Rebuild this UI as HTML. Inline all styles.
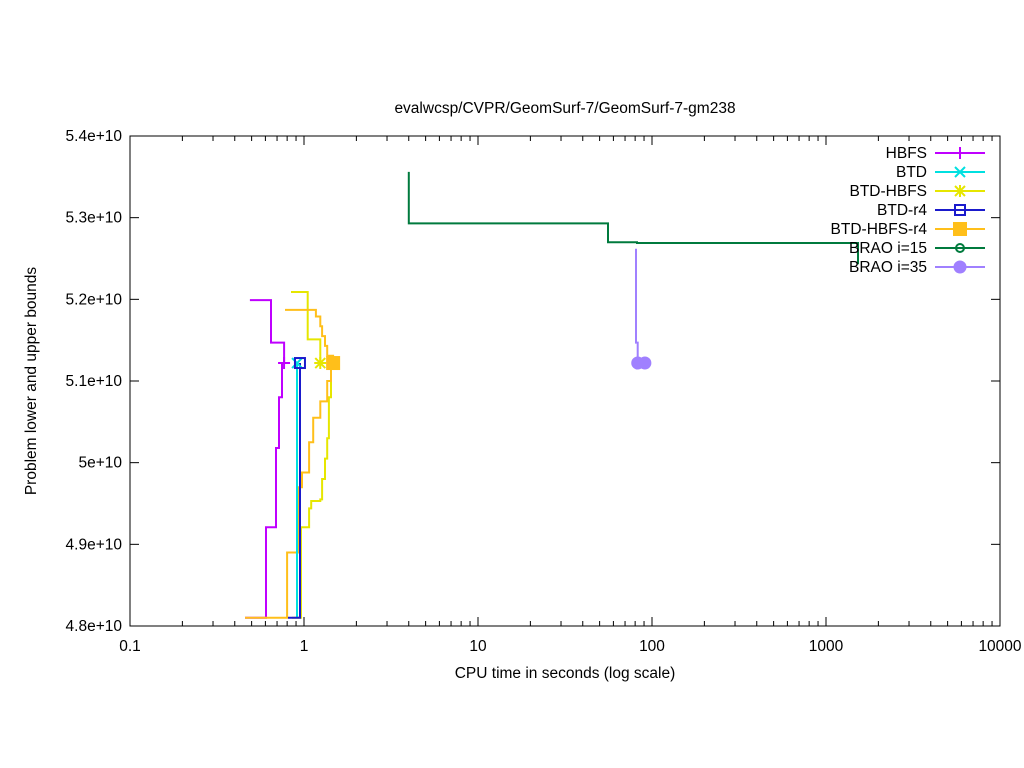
<!DOCTYPE html>
<html><head><meta charset="utf-8"><style>
body{margin:0;background:#fff}
svg{display:block;font-family:"Liberation Sans",sans-serif;font-size:15.5px}
</style></head><body>
<svg id="chart" width="1024" height="768" viewBox="0 0 1024 768"></svg>
<script>
const xTickLabels=["0.1","1","10","100","1000","10000"];
const xTickValues=[0.1,1,10,100,1000,10000];
const yTickLabels=["4.8e+10","4.9e+10","5e+10","5.1e+10","5.2e+10","5.3e+10","5.4e+10"];
const yTickValues=[4.8,4.9,5.0,5.1,5.2,5.3,5.4];
const seriesNames=["HBFS","BTD","BTD-HBFS","BTD-r4","BTD-HBFS-r4","BRAO i=15","BRAO i=35"];
const seriesColors=["#bf00ff","#00e0e0","#e6e600","#1a1acc","#ffbf1a","#007a3d","#a080ff"];
const hbfsUpT=[0.489,0.646,0.768], hbfsUpV=[5.199,5.147,5.122];
const hbfsLoT=[0.458,0.605,0.690,0.718,0.747,0.768], hbfsLoV=[4.810,4.921,5.018,5.080,5.122,5.122];
const btdLoT=[0.912,0.912], btdLoV=[4.810,5.122];
const btdhUpT=[0.842,1.05,1.24], btdhUpV=[5.209,5.151,5.122];
const btdhLoT=[0.853,0.961,1.07,1.10,1.24,1.27,1.32,1.36,1.39,1.43,1.43], btdhLoV=[4.810,4.921,4.944,4.953,4.955,4.980,5.005,5.030,5.080,5.122,5.122];
const r4LoT=[0.809,0.948,0.948], r4LoV=[4.810,4.810,5.122];
const bhr4UpT=[0.778,1.17,1.24,1.27,1.32,1.36,1.47], bhr4UpV=[5.187,5.179,5.167,5.155,5.143,5.131,5.122];
const bhr4LoT=[0.458,0.80,0.924,0.974,1.07,1.13,1.24,1.36,1.43,1.47], bhr4LoV=[4.810,4.890,4.970,4.988,5.025,5.055,5.075,5.100,5.122,5.122];
const brao15T=[4.0,4.0,55.9,82,1528], brao15V=[5.356,5.293,5.270,5.269,5.243];
const brao35T=[80.9,80.9,82.8], brao35V=[5.262,5.147,5.122];
const brao35MarkT=[82.8,91];

const svg=document.getElementById('chart');
const NS='http://www.w3.org/2000/svg';
const L=130,R=1000,T=136,B=626;
function xs(t){return L+(Math.log10(t)+1)/5*(R-L);}
function ys(v){return B-(v-4.8)/0.6*(B-T);}
function mk(tag,attrs,parent){const e=document.createElementNS(NS,tag);for(const k in attrs)e.setAttribute(k,attrs[k]);(parent||svg).appendChild(e);return e;}

const title=mk('text',{x:565,y:113,'text-anchor':'middle'});


title.textContent='evalwcsp/CVPR/GeomSurf-7/GeomSurf-7-gm238';

const axes=mk('g',{});


mk('rect',{x:L,y:T,width:R-L,height:B-T,fill:'none',stroke:'#000','stroke-width':1},axes);
xTickValues.forEach((v,i)=>{
  const x=xs(v);
  mk('line',{x1:x,y1:B,x2:x,y2:B-9,stroke:'#000'},axes);
  mk('line',{x1:x,y1:T,x2:x,y2:T+9,stroke:'#000'},axes);
  const t=mk('text',{x:x,y:B+25,'text-anchor':'middle'},axes);
  
  
  t.textContent=xTickLabels[i];
  if(i<xTickValues.length-1){for(let m=2;m<10;m++){const xm=xs(v*m);
    mk('line',{x1:xm,y1:B,x2:xm,y2:B-5,stroke:'#000'},axes);
    mk('line',{x1:xm,y1:T,x2:xm,y2:T+5,stroke:'#000'},axes);}}
});
yTickValues.forEach((v,i)=>{
  const y=ys(v);
  mk('line',{x1:L,y1:y,x2:L+9,y2:y,stroke:'#000'},axes);
  mk('line',{x1:R,y1:y,x2:R-9,y2:y,stroke:'#000'},axes);
  const t=mk('text',{x:L-8,y:y+5,'text-anchor':'end'},axes);
  
  
  t.textContent=yTickLabels[i];
});
const xt=mk('text',{x:565,y:678,'text-anchor':'middle'});


xt.textContent='CPU time in seconds (log scale)';
const yt=mk('text',{x:36,y:381,'text-anchor':'middle',transform:'rotate(-90 36 381)'});


yt.textContent='Problem lower and upper bounds';

function stepPts(T_,V_){
  const p=[];
  for(let i=0;i<T_.length;i++){
    if(i>0)p.push([xs(T_[i]),ys(V_[i-1])]);
    p.push([xs(T_[i]),ys(V_[i])]);
  }
  return p.map(q=>q[0].toFixed(1)+','+q[1].toFixed(1)).join(' ');
}
function line(T_,V_,ci,name){
  const e=mk('polyline',{points:stepPts(T_,V_),fill:'none',stroke:seriesColors[ci],'stroke-width':2});
  
  
}
function marker(kind,x,y,c,parent){
  const g=mk('g',{stroke:c,fill:'none','stroke-width':2},parent);
  if(kind==0){mk('path',{d:`M${x-6},${y}H${x+6}M${x},${y-6}V${y+6}`},g);}
  else if(kind==1){mk('path',{d:`M${x-5},${y-5}L${x+5},${y+5}M${x-5},${y+5}L${x+5},${y-5}`},g);}
  else if(kind==2){mk('path',{d:`M${x-6},${y}H${x+6}M${x},${y-6}V${y+6}M${x-5},${y-5}L${x+5},${y+5}M${x-5},${y+5}L${x+5},${y-5}`},g);}
  else if(kind==3){mk('rect',{x:x-5,y:y-5,width:10,height:10},g);}
  else if(kind==4){mk('rect',{x:x-6,y:y-6,width:12,height:12,fill:c},g);}
  else if(kind==5){mk('circle',{cx:x,cy:y,r:4},g);}
  else {mk('circle',{cx:x,cy:y,r:5.5,fill:c},g);}
  return g;
}
line(hbfsUpT,hbfsUpV,0,'hbfs-upper');
line(hbfsLoT,hbfsLoV,0,'hbfs-lower');
line(btdhUpT,btdhUpV,2,'btd-hbfs-upper');
line(btdhLoT,btdhLoV,2,'btd-hbfs-lower');
line(bhr4UpT,bhr4UpV,4,'btd-hbfs-r4-upper');
line(bhr4LoT,bhr4LoV,4,'btd-hbfs-r4-lower');
line(btdLoT,btdLoV,1,'btd-lower');
line(r4LoT,r4LoV,3,'btd-r4-lower');
line(brao15T,brao15V,5,'brao15-upper');
line(brao35T,brao35V,6,'brao35-upper');
const ends=[[hbfsUpT,hbfsUpV,0],[btdLoT,btdLoV,1],[btdhUpT,btdhUpV,2],[r4LoT,r4LoV,3],[bhr4UpT,bhr4UpV,4]];
ends.forEach(e=>{const n=e[0].length-1;const m=marker(e[2],xs(e[0][n]),ys(e[1][n]),seriesColors[e[2]]);
  
  });
brao35MarkT.forEach(t=>{
  const m=marker(6,xs(t),ys(brao35V[brao35V.length-1]),seriesColors[6]);
  
  
});

const leg=mk('g',{});


seriesNames.forEach((n,i)=>{
  const y=153+i*19;
  const g=mk('g',{},leg);
  
  
  const t=mk('text',{x:927,y:y+5,'text-anchor':'end'},g);t.textContent=n;
  mk('line',{x1:935,y1:y,x2:985,y2:y,stroke:seriesColors[i],'stroke-width':2},g);
  marker(i,960,y,seriesColors[i],g);
});
</script>
</body></html>
